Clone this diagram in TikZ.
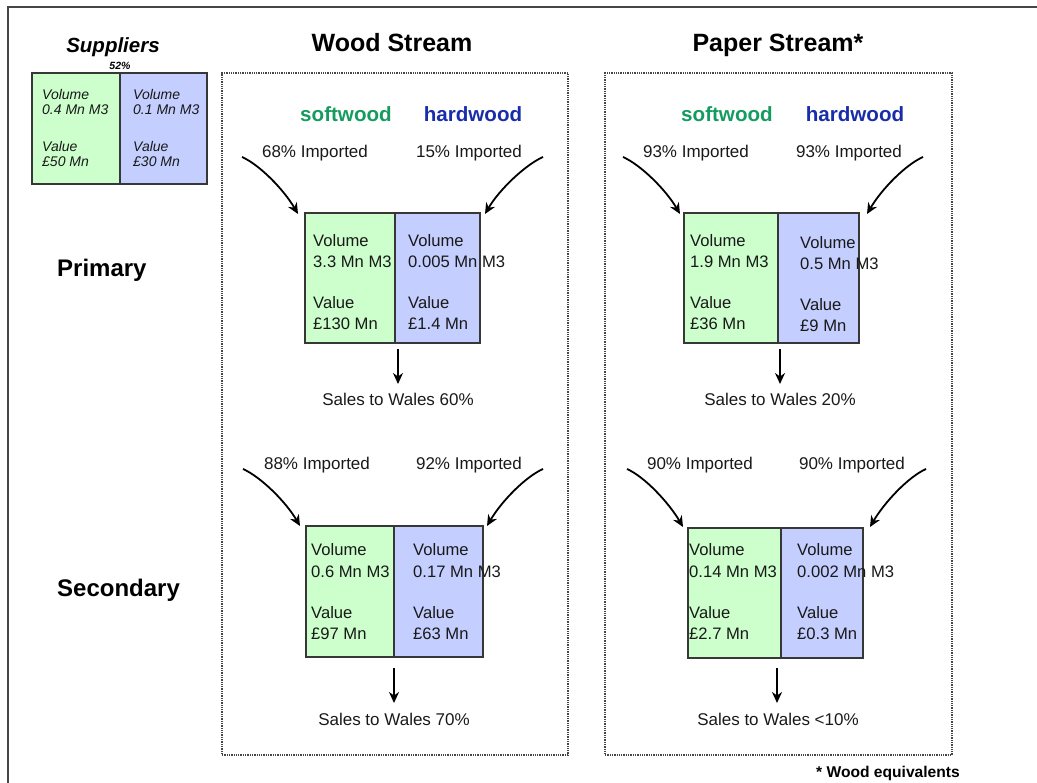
\documentclass[tikz,border=0pt]{standalone}
\usepackage{fontspec}
\setmainfont{Liberation Sans}
\usetikzlibrary{arrows.meta,calc}
\definecolor{sgreen}{RGB}{204,255,204}
\definecolor{hblue}{RGB}{196,206,255}
\definecolor{swtext}{RGB}{20,155,95}
\definecolor{hwtext}{RGB}{25,45,170}
\definecolor{boxline}{RGB}{55,55,55}
\definecolor{frameline}{RGB}{70,70,70}
\definecolor{txt}{RGB}{25,25,25}
\tikzset{
  cellg/.style={draw=boxline, fill=sgreen, line width=1.3pt, anchor=north west, inner sep=0pt, outer sep=0pt},
  cellb/.style={draw=boxline, fill=hblue, line width=1.3pt, anchor=north west, inner sep=0pt, outer sep=0pt},
  val/.style={anchor=base west, inner sep=0pt, text=txt, font=\fontsize{16.6}{19}\selectfont},
  supval/.style={anchor=base west, inner sep=0pt, text=txt, font=\fontsize{14}{16}\selectfont\itshape},
  imptext/.style={anchor=base, inner sep=0pt, text=txt, font=\fontsize{17}{19}\selectfont},
  salestext/.style={anchor=base, inner xsep=0pt, inner ysep=0pt, text=txt, font=\fontsize{17}{19}\selectfont},
  swhead/.style={anchor=base, inner sep=0pt, text=swtext, font=\fontsize{20.6}{23}\selectfont\bfseries},
  hwhead/.style={anchor=base, inner sep=0pt, text=hwtext, font=\fontsize{20.6}{23}\selectfont\bfseries},
  title/.style={anchor=base, inner sep=0pt, text=black, font=\fontsize{25}{28}\selectfont\bfseries},
  rowlabel/.style={anchor=base west, inner sep=0pt, text=black, font=\fontsize{24}{27}\selectfont\bfseries},
  streamframe/.style={draw=frameline, densely dotted, line width=1.3pt, anchor=north west, inner sep=0pt, outer sep=0pt},
  imparrow/.style={draw=black, line width=1.8pt, -{Stealth[length=11pt,width=10pt]}},
  salesarrow/.style={draw=black, line width=1.8pt, -{Stealth[length=11pt,width=10pt]}},
}
\newcommand\twoline[5]{%
  \node[val] (#1a) at (#2,#3) {#4};
  \node[val] (#1b) at (#2,#3+21) {#5};}
\begin{document}
\begin{tikzpicture}[x=1pt,y=-1pt]
\useasboundingbox (0,0) rectangle (1037,783);
\begin{scope}
\clip (0,0) rectangle (1037,783);
\draw[draw=frameline, line width=1.4pt] (8,7) rectangle (1060,810);
\end{scope}

% ---------- Suppliers ----------
\node[anchor=base, inner sep=0pt, font=\fontsize{20.5}{23}\selectfont\bfseries\itshape] (supT) at (113,53) {Suppliers};
\node[anchor=base, inner sep=0pt, font=\fontsize{10.5}{12}\selectfont\bfseries\itshape] (supP) at (120,70) {52\%};
\node[cellg, minimum width=88pt, minimum height=111pt] (supG) at (32,73) {};
\node[cellb, minimum width=87pt, minimum height=111pt] (supB) at (120,73) {};
\node[supval] (supGa) at (42,100) {Volume};
\node[supval] (supGb) at (42,115) {0.4 Mn M3};
\node[supval] (supGc) at (42,152) {Value};
\node[supval] (supGd) at (42,167) {£50 Mn};
\node[supval] (supBa) at (133,100) {Volume};
\node[supval] (supBb) at (133,115) {0.1 Mn M3};
\node[supval] (supBc) at (133,152) {Value};
\node[supval] (supBd) at (133,167) {£30 Mn};

% ---------- row labels ----------
\node[rowlabel] (primary) at (57,277) {Primary};
\node[rowlabel] (secondary) at (57,597) {Secondary};

% ---------- stream frames and titles ----------
\node[streamframe, minimum width=346pt, minimum height=682pt] (woodF) at (222,73) {};
\node[streamframe, minimum width=347pt, minimum height=682pt] (paperF) at (605,73) {};
\node[title] (woodT) at (392,52) {Wood Stream};
\node[title] (paperT) at (778,52) {Paper Stream*};

% headings
\node[swhead] (wsw) at (346,122) {softwood};
\node[hwhead] (whw) at (473,122) {hardwood};
\node[swhead] (psw) at (727,122) {softwood};
\node[hwhead] (phw) at (855,122) {hardwood};

% ---------- Wood primary ----------
\node[imptext] (wpIL) at (315,158) {68\% Imported};
\node[imptext] (wpIR) at (469,158) {15\% Imported};
\node[cellg, minimum width=90pt, minimum height=130pt] (wpG) at (305,213) {};
\node[cellb, minimum width=85pt, minimum height=130pt] (wpB) at (395,213) {};
\twoline{wpG1}{313}{247}{Volume}{3.3 Mn M3}
\twoline{wpG2}{313}{309}{Value}{£130 Mn}
\twoline{wpB1}{408}{247}{Volume}{0.005 Mn M3}
\twoline{wpB2}{408}{309}{Value}{£1.4 Mn}
\coordinate (wpLs) at (242,157); \coordinate (wpLe) at (298,214);
\coordinate (wpRs) at (543,157); \coordinate (wpRe) at (485,214);
\draw[imparrow] (wpLs) .. controls +(18,8) and +(-14,-24) .. (wpLe);
\draw[imparrow] (wpRs) .. controls +(-18,8) and +(14,-24) .. (wpRe);
\node[salestext] (wpS) at (398,406) {Sales to Wales 60\%};
\coordinate (wpD) at (398,349); \coordinate (wpDe) at (398,384);
\draw[salesarrow] (wpD) -- (wpDe);

% ---------- Paper primary ----------
\node[imptext] (ppIL) at (696,158) {93\% Imported};
\node[imptext] (ppIR) at (849,158) {93\% Imported};
\node[cellg, minimum width=94pt, minimum height=130pt] (ppG) at (684,213) {};
\node[cellb, minimum width=81pt, minimum height=130pt] (ppB) at (778,213) {};
\twoline{ppG1}{690}{247}{Volume}{1.9 Mn M3}
\twoline{ppG2}{690}{309}{Value}{£36 Mn}
\twoline{ppB1}{800}{249}{Volume}{0.5 Mn M3}
\twoline{ppB2}{800}{311}{Value}{£9 Mn}
\coordinate (ppLs) at (623,157); \coordinate (ppLe) at (680,214);
\coordinate (ppRs) at (923,157); \coordinate (ppRe) at (867,214);
\draw[imparrow] (ppLs) .. controls +(18,8) and +(-14,-24) .. (ppLe);
\draw[imparrow] (ppRs) .. controls +(-18,8) and +(14,-24) .. (ppRe);
\node[salestext] (ppS) at (780,406) {Sales to Wales 20\%};
\coordinate (ppD) at (780,349); \coordinate (ppDe) at (780,384);
\draw[salesarrow] (ppD) -- (ppDe);

% ---------- Wood secondary ----------
\node[imptext] (wsIL) at (317,470) {88\% Imported};
\node[imptext] (wsIR) at (469,470) {92\% Imported};
\node[cellg, minimum width=88pt, minimum height=131pt] (wsG) at (306,526) {};
\node[cellb, minimum width=89pt, minimum height=131pt] (wsB) at (394,526) {};
\twoline{wsG1}{311}{556}{Volume}{0.6 Mn M3}
\twoline{wsG2}{311}{618}{Value}{£97 Mn}
\twoline{wsB1}{413}{556}{Volume}{0.17 Mn M3}
\twoline{wsB2}{413}{618}{Value}{£63 Mn}
\coordinate (wsLs) at (243,469); \coordinate (wsLe) at (300,526);
\coordinate (wsRs) at (543,469); \coordinate (wsRe) at (487,526);
\draw[imparrow] (wsLs) .. controls +(18,8) and +(-14,-24) .. (wsLe);
\draw[imparrow] (wsRs) .. controls +(-18,8) and +(14,-24) .. (wsRe);
\node[salestext] (wsS) at (394,725) {Sales to Wales 70\%};
\coordinate (wsD) at (394,668); \coordinate (wsDe) at (394,703);
\draw[salesarrow] (wsD) -- (wsDe);

% ---------- Paper secondary ----------
\node[imptext] (psIL) at (700,470) {90\% Imported};
\node[imptext] (psIR) at (852,470) {90\% Imported};
\node[cellg, minimum width=93pt, minimum height=130pt] (psG) at (688,528) {};
\node[cellb, minimum width=82pt, minimum height=130pt] (psB) at (781,528) {};
\twoline{psG1}{689}{556}{Volume}{0.14 Mn M3}
\twoline{psG2}{689}{618}{Value}{£2.7 Mn}
\twoline{psB1}{797}{556}{Volume}{0.002 Mn M3}
\twoline{psB2}{797}{618}{Value}{£0.3 Mn}
\coordinate (psLs) at (627,469); \coordinate (psLe) at (683,527);
\coordinate (psRs) at (926,469); \coordinate (psRe) at (870,527);
\draw[imparrow] (psLs) .. controls +(18,8) and +(-14,-24) .. (psLe);
\draw[imparrow] (psRs) .. controls +(-18,8) and +(14,-24) .. (psRe);
\node[salestext] (psS) at (778,725) {Sales to Wales <10\%};
\coordinate (psD) at (777,668); \coordinate (psDe) at (777,703);
\draw[salesarrow] (psD) -- (psDe);

% footnote
\node[anchor=base, inner sep=0pt, font=\fontsize{15.6}{18}\selectfont\bfseries] (foot) at (888,777) {* Wood equivalents};
\end{tikzpicture}
\end{document}
